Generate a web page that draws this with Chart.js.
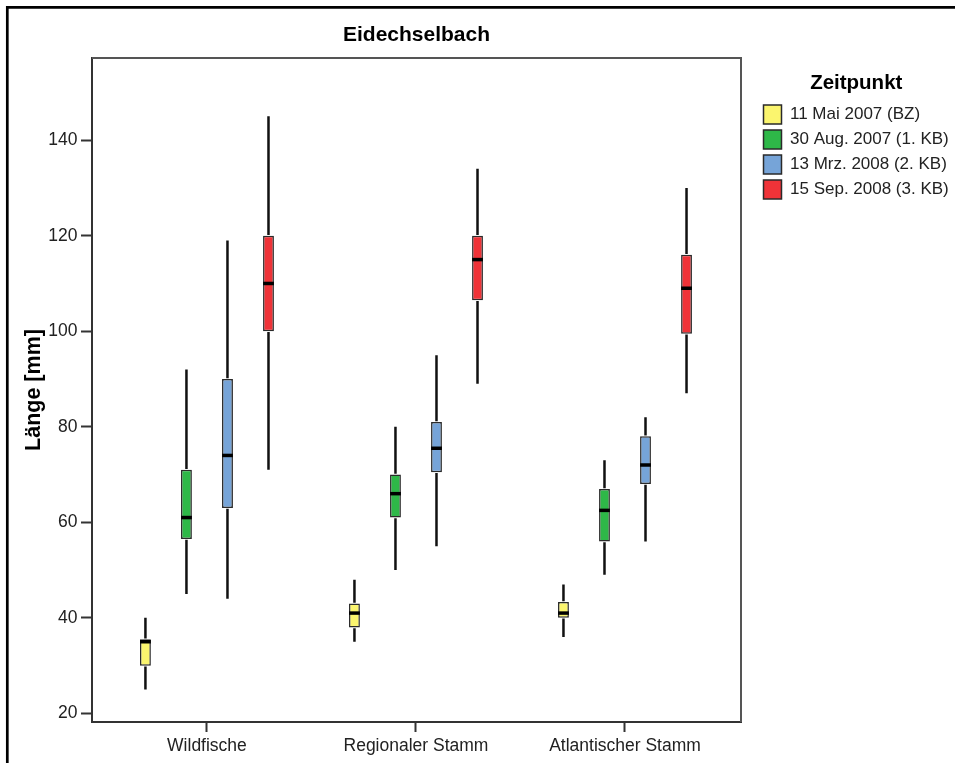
<!DOCTYPE html>
<html>
<head>
<meta charset="utf-8">
<script src="https://cdn.jsdelivr.net/npm/chart.js@4.4.1/dist/chart.umd.min.js"></script>
<style>
  html, body { margin: 0; padding: 0; background: #fff; }
  canvas { display: block; }
</style>
</head>
<body>
<canvas id="c" width="955" height="763"></canvas>
<script>
// ---- data ----
const categories = ['Wildfische', 'Regionaler Stamm', 'Atlantischer Stamm'];
const seriesLabels = ['11 Mai 2007 (BZ)', '30 Aug. 2007 (1. KB)', '13 Mrz. 2008 (2. KB)', '15 Sep. 2008 (3. KB)'];
const seriesColors = ['#FBF56E', '#2EB848', '#76A4D8', '#EF3338'];
// each entry per category: [min, q1, median, q3, max]
const mai2007 = [[25, 30, 35, 35.5, 40], [35, 38, 41, 43, 48], [36, 40, 41, 43.3, 47]];
const aug2007 = [[45, 56.5, 61, 71, 92], [50, 61, 66, 70, 80], [49, 56, 62.5, 67, 73]];
const mrz2008 = [[44, 63, 74, 90, 119], [55, 70.5, 75.5, 81, 95], [56, 68, 72, 78, 82]];
const sep2008 = [[71, 100, 110, 120, 145], [89, 106.5, 115, 120, 134], [87, 99.5, 109, 116, 130]];
const seriesStats = [mai2007, aug2007, mrz2008, sep2008];
const yTickStep = 20;

Chart.defaults.font.family = "'Liberation Sans', Arial, sans-serif";
Chart.defaults.color = '#222';

const datasets = seriesLabels.map((label, si) => ({
  label: label,
  stats: seriesStats[si],
  data: categories.map((c, ci) => ({ x: ci, y: [seriesStats[si][ci][1], seriesStats[si][ci][3]] })),
  backgroundColor: seriesColors[si],
  borderColor: '#2a2a2a',
  borderWidth: 1.5,
  borderSkipped: false,
  categoryPercentage: 0.785,
  barPercentage: 0.265
}));

const backgroundFrame = {
  id: 'backgroundFrame',
  beforeDraw(chart) {
    const ctx = chart.ctx;
    ctx.save();
    ctx.fillStyle = '#fff';
    ctx.fillRect(0, 0, chart.width, chart.height);
    ctx.strokeStyle = '#000';
    ctx.lineWidth = 2.7;
    ctx.beginPath();
    ctx.moveTo(7.3, chart.height);
    ctx.lineTo(7.3, 7.3);
    ctx.lineTo(chart.width, 7.3);
    ctx.stroke();
    ctx.restore();
  }
};

const whiskers = {
  id: 'whiskers',
  afterDatasetsDraw(chart) {
    const ctx = chart.ctx;
    const ys = chart.scales.y;
    ctx.save();
    chart.data.datasets.forEach((ds, di) => {
      const meta = chart.getDatasetMeta(di);
      meta.data.forEach((bar, i) => {
        const s = ds.stats[i];
        const x = bar.x, w = bar.width;
        const pMin = ys.getPixelForValue(s[0]);
        const pQ1 = ys.getPixelForValue(s[1]);
        const pMed = ys.getPixelForValue(s[2]);
        const pQ3 = ys.getPixelForValue(s[3]);
        const pMax = ys.getPixelForValue(s[4]);
        ctx.strokeStyle = '#111';
        ctx.lineWidth = 2.5;
        ctx.beginPath();
        ctx.moveTo(x, pMax); ctx.lineTo(x, pQ3 - 0.75);
        ctx.moveTo(x, pQ1 + 0.75); ctx.lineTo(x, pMin);
        ctx.stroke();
        ctx.lineWidth = 3.5;
        ctx.strokeStyle = '#000';
        ctx.beginPath();
        ctx.moveTo(x - w / 2, pMed); ctx.lineTo(x + w / 2, pMed);
        ctx.stroke();
      });
    });
    ctx.restore();
  }
};

const plotFrame = {
  id: 'plotFrame',
  afterDraw(chart) {
    const a = chart.chartArea;
    const ctx = chart.ctx;
    ctx.save();
    ctx.strokeStyle = '#555';
    ctx.lineWidth = 2;
    ctx.beginPath();
    ctx.moveTo(a.left, a.top);
    ctx.lineTo(a.right, a.top);
    ctx.lineTo(a.right, a.bottom);
    ctx.stroke();
    ctx.restore();
  }
};

new Chart(document.getElementById('c'), {
  type: 'bar',
  data: { datasets: datasets },
  plugins: [backgroundFrame, whiskers, plotFrame],
  options: {
    responsive: false,
    animation: false,
    devicePixelRatio: 1,
    layout: { padding: { top: 14, left: 0, right: 0, bottom: 0 } },
    plugins: {
      tooltip: { enabled: false },
      title: {
        display: true,
        text: 'Eidechselbach',
        fullSize: false,
        color: '#000',
        font: { size: 21, weight: 'bold' },
        padding: { top: 9, bottom: 9.8 }
      },
      legend: {
        position: 'right',
        align: 'start',
        maxWidth: 197.5,
        title: {
          display: true,
          text: 'Zeitpunkt',
          color: '#000',
          font: { size: 20.5, weight: 'bold' },
          padding: { top: 58.75, bottom: 1.65 }
        },
        labels: {
          boxWidth: 18,
          boxHeight: 19,
          padding: 6,
          color: '#222',
          font: { size: 17 }
        }
      }
    },
    scales: {
      x: {
        type: 'linear',
        min: -0.55,
        max: 2.555,
        offset: false,
        afterBuildTicks: (s) => { s.ticks = categories.map((c, i) => ({ value: i })); },
        afterFit: (s) => { s.height = 41; },
        ticks: {
          callback: (v) => categories[v] !== undefined ? categories[v] : '',
          font: { size: 17.5 },
          color: '#222',
          padding: 4,
          maxRotation: 0,
          autoSkip: false
        },
        grid: { display: true, drawOnChartArea: false, drawTicks: true, tickLength: 10, tickWidth: 2, tickColor: '#333', offset: false },
        border: { display: true, color: '#333', width: 2 }
      },
      y: {
        type: 'linear',
        position: 'left',
        min: 18.2,
        max: 157.2,
        afterFit: (s) => { s.width = 92; },
        ticks: { stepSize: yTickStep, includeBounds: false, font: { size: 17.5 }, color: '#222', padding: 3.5 },
        grid: { drawOnChartArea: false, drawTicks: true, tickLength: 11, tickWidth: 2, tickColor: '#333' },
        border: { display: true, color: '#333', width: 2 },
        title: {
          display: true,
          text: 'Länge [mm]',
          color: '#000',
          font: { size: 21.5, weight: 'bold' },
          padding: { top: 21, bottom: 0 }
        }
      },
      spacer: {
        type: 'linear',
        position: 'right',
        display: true,
        grid: { display: false },
        border: { display: false },
        ticks: { display: false },
        afterFit: (s) => { s.width = 16.5; }
      }
    }
  }
});
</script>
</body>
</html>
